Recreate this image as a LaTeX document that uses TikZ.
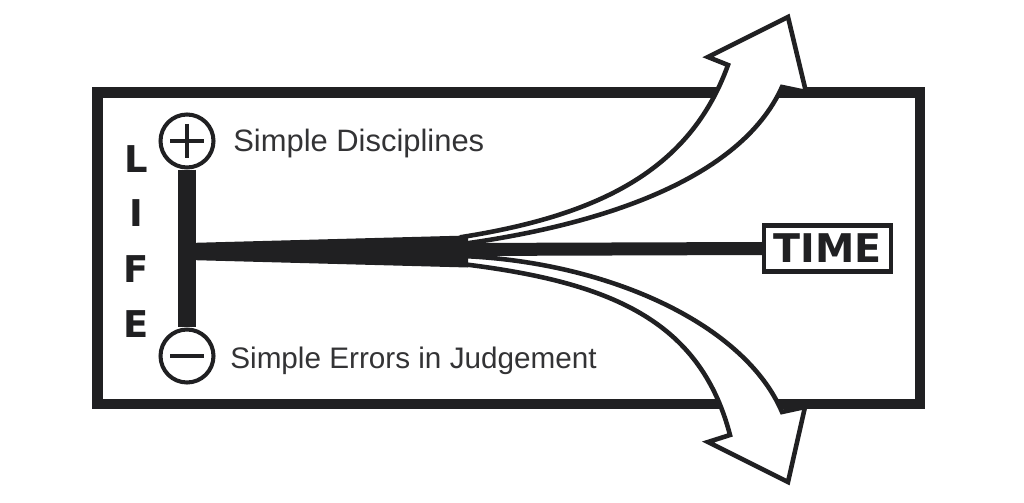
\documentclass[tikz,border=0pt]{standalone}
\usepackage{fontspec}
\setmainfont{Liberation Sans}
\newfontfamily\heavy{DejaVu Sans}
\definecolor{inkc}{HTML}{202022}
\definecolor{txtc}{HTML}{333335}
\tikzset{
  frame/.style={draw=inkc, line width=5.7pt},
  branch/.style={draw=inkc, fill=white, line width=2.6pt, line join=miter},
  pole/.style={circle, draw=inkc, fill=white, line width=2.3pt, minimum size=1.06cm, inner sep=0pt},
  sign/.style={draw=inkc, line width=2.3pt},
  lifeletter/.style={font=\heavy\bfseries\fontsize{21}{21}\selectfont, text=inkc, inner sep=0pt},
  caption/.style={text=txtc, inner sep=0pt, anchor=base west},
  timebox/.style={draw=inkc, fill=white, line width=2.3pt, minimum width=2.54cm, minimum height=0.92cm, inner sep=0pt, font=\heavy\bfseries\fontsize{22.5}{22.5}\selectfont, text=inkc},
  bar/.style={draw=inkc, line width=#1},
}
\begin{document}
\begin{tikzpicture}[x=0.02cm, y=-0.02cm]
\useasboundingbox[fill=white] (0,0) rectangle (1024,503);
% outer frame
\draw[frame] (97.5,92.5) rectangle (920,404);
% upper arrow
\draw[branch] (462,237) .. controls (600,215) and (690,170) .. (728,65)
  -- (708,57) -- (788,17) -- (806,92) -- (782,87)
  .. controls (740,180) and (600,225) .. (462,244) -- cycle;
% lower arrow
\draw[branch] (462,256) .. controls (610,262) and (745,325) .. (782,412)
  -- (805,407) -- (788,482) -- (708,442) -- (730,435)
  .. controls (700,320) and (610,282) .. (462,264) -- cycle;
% poles
\node[pole] (plus) at (187,141) {};
\node[pole] (minus) at (187,356) {};
\draw[sign] (plus.center) ++(-17,0) -- ++(34,0);
\draw[sign] (plus.center) ++(0,-17) -- ++(0,34);
\draw[sign] (minus.center) ++(-17,0) -- ++(34,0);
\draw[bar=9.7pt] (plus.south) -- (minus.north);
% trunk
\coordinate (hub) at (188,251.5);
\coordinate (fork) at (462,249.5);
\fill[inkc] (188,243) -- (468,235.5) -- (468,267.5) -- (188,260) -- cycle;
% time box
\node[timebox] (time) at (827.5,248.5) {TIME};
\draw[bar=7.4pt] (fork) -- (time.west);
% LIFE
\node[lifeletter] (l1) at (136.5,159) {L};
\node[lifeletter] (l2) at (136.5,213) {I};
\node[lifeletter] (l3) at (136.5,269) {F};
\node[lifeletter] (l4) at (136.5,324) {E};
% captions
\node[caption, font=\fontsize{17.6}{20}\selectfont] (good) at (233,152) {Simple Disciplines};
\node[caption, font=\fontsize{16.9}{20}\selectfont] (bad) at (230,368) {Simple Errors in Judgement};
\end{tikzpicture}
\end{document}
